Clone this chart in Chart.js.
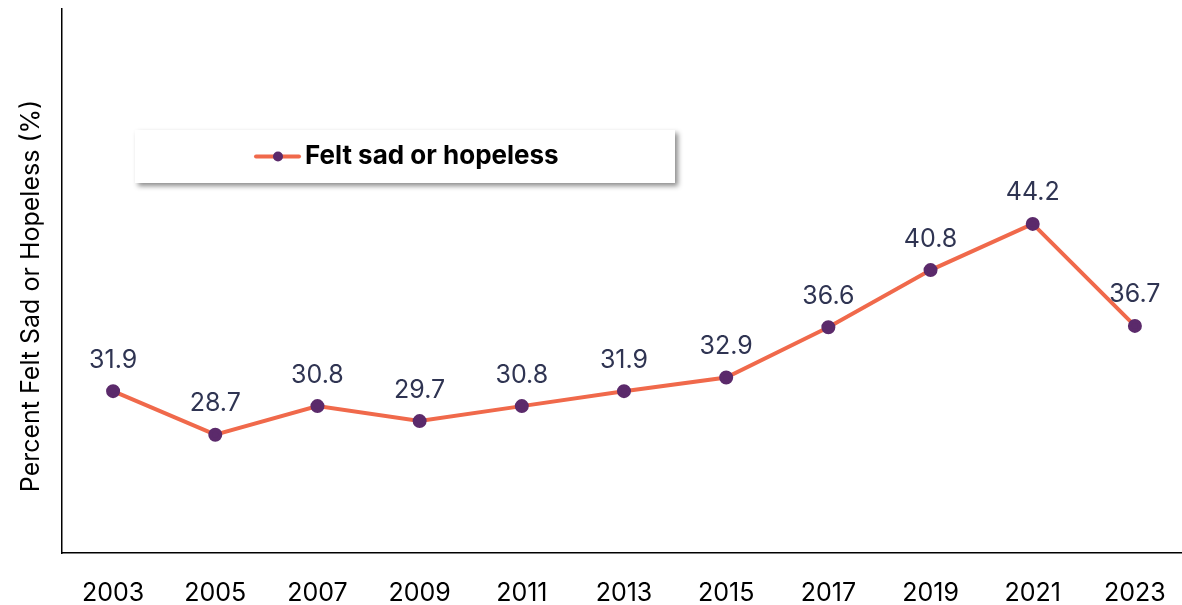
<!DOCTYPE html>
<html>
<head>
<meta charset="utf-8">
<script src="https://cdn.jsdelivr.net/npm/chart.js@4/dist/chart.umd.min.js"></script>
<style>
  html, body { margin: 0; padding: 0; background: #fff; overflow: hidden; }
  #wrap { width: 1195px; height: 605px; }
</style>
</head>
<body>
<div id="wrap"><canvas id="trendChart" width="1195" height="605"></canvas></div>
<script>
// Survey years and share of students who felt sad or hopeless
const years = ['2003', '2005', '2007', '2009', '2011', '2013', '2015', '2017', '2019', '2021', '2023'];
const feltSad = [31.9, 28.7, 30.8, 29.7, 30.8, 31.9, 32.9, 36.6, 40.8, 44.2, 36.7];
const seriesLabel = 'Felt sad or hopeless';
const yTitle = 'Percent Felt Sad or Hopeless (%)';

const FONT = 'Inter, "Noto Sans", sans-serif';
const LINE_COLOR = '#f0694b';
const POINT_COLOR = '#5b2a6b';
const LABEL_COLOR = '#2f3452';

// Value labels above each point
const valueLabels = {
    id: 'valueLabels',
    afterDatasetsDraw(chart) {
        const ctx = chart.ctx;
        const meta = chart.getDatasetMeta(0);
        ctx.save();
        ctx.font = '25px ' + FONT;
        ctx.fillStyle = LABEL_COLOR;
        ctx.textAlign = 'center';
        ctx.textBaseline = 'middle';
        meta.data.forEach((pt, i) => {
            ctx.fillText(chart.data.datasets[0].data[i].toFixed(1), pt.x, pt.y - 31);
        });
        ctx.restore();
    }
};

// Rotated y axis title
const axisTitle = {
    id: 'axisTitle',
    afterDraw(chart) {
        const ctx = chart.ctx;
        ctx.save();
        ctx.translate(31, 296);
        ctx.rotate(-Math.PI / 2);
        ctx.font = '25px ' + FONT;
        ctx.fillStyle = '#000';
        ctx.textAlign = 'center';
        ctx.textBaseline = 'middle';
        ctx.fillText(yTitle, 0, 0);
        ctx.restore();
    }
};

// Floating legend box with drop shadow
const legendBox = {
    id: 'legendBox',
    afterDraw(chart) {
        const ctx = chart.ctx;
        const ds = chart.data.datasets[0];
        const x = 135, y = 130, w = 540, h = 53;
        ctx.save();
        ctx.shadowColor = 'rgba(0,0,0,0.45)';
        ctx.shadowBlur = 5;
        ctx.shadowOffsetX = 3;
        ctx.shadowOffsetY = 3;
        ctx.fillStyle = '#fff';
        ctx.fillRect(x, y, w, h);
        ctx.restore();

        const cy = y + h / 2;
        ctx.save();
        ctx.strokeStyle = ds.borderColor;
        ctx.lineWidth = 4;
        ctx.lineCap = 'round';
        ctx.beginPath();
        ctx.moveTo(256, cy);
        ctx.lineTo(299, cy);
        ctx.stroke();
        ctx.fillStyle = ds.pointBackgroundColor;
        ctx.beginPath();
        ctx.arc(278, cy, 5, 0, Math.PI * 2);
        ctx.fill();
        ctx.font = 'bold 26px ' + FONT;
        ctx.fillStyle = '#000';
        ctx.textAlign = 'left';
        ctx.textBaseline = 'middle';
        ctx.fillText(ds.label, 305, cy);
        ctx.restore();
    }
};

new Chart(document.getElementById('trendChart'), {
    type: 'line',
    data: {
        labels: years,
        datasets: [{
            label: seriesLabel,
            data: feltSad,
            borderColor: LINE_COLOR,
            borderWidth: 4,
            pointBackgroundColor: POINT_COLOR,
            pointBorderColor: POINT_COLOR,
            pointRadius: 5,
            tension: 0,
            fill: false
        }]
    },
    options: {
        responsive: false,
        animation: false,
        layout: { padding: { top: 8, left: 0, right: 0, bottom: 0 } },
        plugins: {
            legend: { display: false },
            tooltip: { enabled: false }
        },
        scales: {
            x: {
                offset: true,
                grid: { display: false, drawTicks: false },
                border: { color: '#000', width: 1.5 },
                ticks: {
                    color: '#000',
                    font: { family: FONT, size: 25 },
                    padding: 25,
                    maxRotation: 0
                },
                afterFit(scale) { scale.height = 52; }
            },
            y: {
                min: 20,
                max: 60,
                grid: { display: false, drawTicks: false },
                border: { color: '#000', width: 1.5 },
                ticks: { display: false },
                afterFit(scale) { scale.width = 62; }
            }
        }
    },
    plugins: [valueLabels, axisTitle, legendBox]
});
</script>
</body>
</html>
